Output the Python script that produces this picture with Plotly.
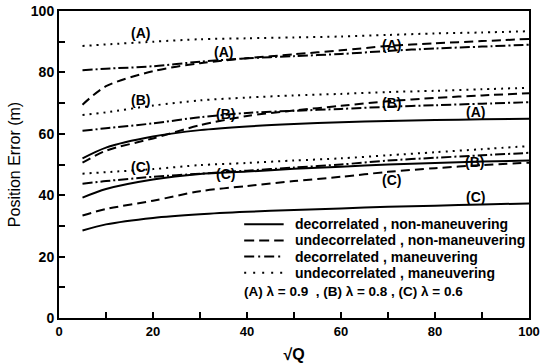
import plotly.graph_objects as go

sqrt_q = [5, 10, 20, 30, 40, 50, 60, 70, 80, 90, 100]

# lambda = 0.9 (A)
dec_nonman_A = [52.0, 55.5, 59.1, 61.2, 62.4, 63.2, 63.8, 64.2, 64.5, 64.7, 64.9]
und_nonman_A = [69.5, 75.5, 80.4, 83.0, 84.6, 85.9, 87.2, 88.6, 89.5, 90.2, 90.9]
dec_man_A = [80.7, 81.2, 82.0, 83.5, 84.6, 85.3, 86.0, 87.0, 87.8, 88.4, 89.0]
und_man_A = [88.6, 89.1, 90.0, 90.8, 91.1, 91.4, 91.7, 92.2, 92.7, 93.0, 93.4]

# lambda = 0.8 (B)
dec_nonman_B = [39.2, 42.0, 45.1, 46.9, 47.7, 48.6, 49.3, 50.0, 50.5, 51.0, 51.3]
und_nonman_B = [50.6, 54.5, 58.5, 62.8, 65.8, 67.6, 69.1, 70.6, 71.7, 72.5, 73.2]
dec_man_B = [61.0, 61.8, 63.4, 65.4, 66.8, 67.5, 68.1, 68.8, 69.3, 69.8, 70.3]
und_man_B = [66.1, 67.0, 69.2, 70.9, 71.8, 72.5, 73.0, 73.6, 74.0, 74.5, 75.0]

# lambda = 0.6 (C)
dec_nonman_C = [28.5, 30.5, 32.6, 33.8, 34.6, 35.2, 35.7, 36.2, 36.6, 37.0, 37.3]
und_nonman_C = [33.4, 35.5, 38.2, 41.3, 43.0, 44.6, 46.0, 47.6, 48.8, 49.8, 50.6]
dec_man_C = [43.7, 44.6, 46.0, 47.0, 48.0, 49.0, 50.0, 51.3, 52.2, 53.0, 53.8]
und_man_C = [47.0, 47.5, 48.5, 49.8, 50.5, 51.3, 52.0, 53.0, 54.0, 55.0, 56.0]

legend_names = [
    "decorrelated , non-maneuvering",
    "undecorrelated , non-maneuvering",
    "decorrelated , maneuvering",
    "undecorrelated , maneuvering",
]
lambda_note = "(A) λ = 0.9 &nbsp;, (B) λ = 0.8 , (C) λ = 0.6"

# curve labels
label_text = ["(A)", "(A)", "(A)", "(A)", "(B)", "(B)", "(B)", "(B)", "(C)", "(C)", "(C)", "(C)"]
label_x = [17.4, 35.0, 70.8, 88.7, 17.4, 35.4, 70.8, 88.3, 17.4, 35.4, 70.8, 88.7]
label_y = [92.9, 86.7, 89.0, 67.0, 71.0, 66.6, 69.9, 50.8, 49.2, 47.0, 44.9, 39.4]

FONT = "Liberation Sans"

dash_styles = ["solid", "9px,5px", "10px,3px,2px,3px", "2px,5px"]
legend_dash = ["solid", "10px,5px", "10px,4px,2px,4px", "2px,7px"]

groups = [
    [dec_nonman_A, dec_nonman_B, dec_nonman_C],
    [und_nonman_A, und_nonman_B, und_nonman_C],
    [dec_man_A, dec_man_B, dec_man_C],
    [und_man_A, und_man_B, und_man_C],
]

fig = go.Figure()
for gi, series_list in enumerate(groups):
    for si, ys in enumerate(series_list):
        fig.add_trace(go.Scatter(
            x=sqrt_q, y=ys, mode="lines",
            line=dict(color="black", width=2, dash=dash_styles[gi], shape="spline", smoothing=0.8),
            name=legend_names[gi], showlegend=False,
        ))

for t, lx, ly in zip(label_text, label_x, label_y):
    fig.add_annotation(x=lx, y=ly, text=t, showarrow=False,
                       font=dict(family=FONT, size=14, color="black", weight="bold"))

# manual legend (key samples + texts) placed in paper coordinates
leg_x0, leg_x1, leg_text_x = 0.394, 0.478, 0.497
leg_top, leg_step = 0.305, 0.0525
for i, name in enumerate(legend_names):
    yy = leg_top - i * leg_step
    fig.add_shape(type="line", xref="paper", yref="paper",
                  x0=leg_x0, x1=leg_x1, y0=yy, y1=yy,
                  line=dict(color="black", width=2, dash=legend_dash[i]))
    fig.add_annotation(xref="paper", yref="paper", x=leg_text_x, y=yy,
                       xanchor="left", yanchor="middle", text=name, showarrow=False,
                       font=dict(family=FONT, size=14, color="black", weight="bold"))

fig.add_annotation(
    xref="paper", yref="paper", x=0.389, y=leg_top - 4 * leg_step - 0.008,
    xanchor="left", yanchor="middle", text=lambda_note, showarrow=False,
    font=dict(family=FONT, size=13.5, color="black", weight="bold"),
)

axis_common = dict(
    showline=True, linecolor="black", linewidth=2, mirror=True,
    ticks="inside", ticklen=6, tickwidth=1.5, tickcolor="black",
    showgrid=False, zeroline=False, automargin=False,
    ticklabeloverflow="allow",
)

fig.update_xaxes(
    range=[0, 100], tickvals=[0, 20, 40, 60, 80, 100],
    minor=dict(dtick=10, ticks="inside", ticklen=6, tickcolor="black", tickwidth=1.5),
    tickfont=dict(family=FONT, size=13, color="black", weight="bold"),
    title=dict(text="√Q", font=dict(family=FONT, size=16, color="black", weight="bold"), standoff=12),
    **axis_common,
)
fig.update_yaxes(
    range=[0, 100], tickvals=[0, 20, 40, 60, 80, 100],
    minor=dict(dtick=10, ticks="inside", ticklen=6, tickcolor="black", tickwidth=1.5),
    tickfont=dict(family=FONT, size=14, color="black", weight="bold"),
    title=dict(text="Position Error (m)", font=dict(family=FONT, size=16, color="black"), standoff=6),
    **axis_common,
)

fig.update_layout(
    template="none",
    width=540, height=363,
    margin=dict(l=59, r=11, t=11, b=45),
    plot_bgcolor="white", paper_bgcolor="white",
    showlegend=False,
)

fig.write_html(
    "out.html",
    config={"displayModeBar": False},
    post_script="document.body.style.margin='0';document.body.style.overflow='hidden';",
)
